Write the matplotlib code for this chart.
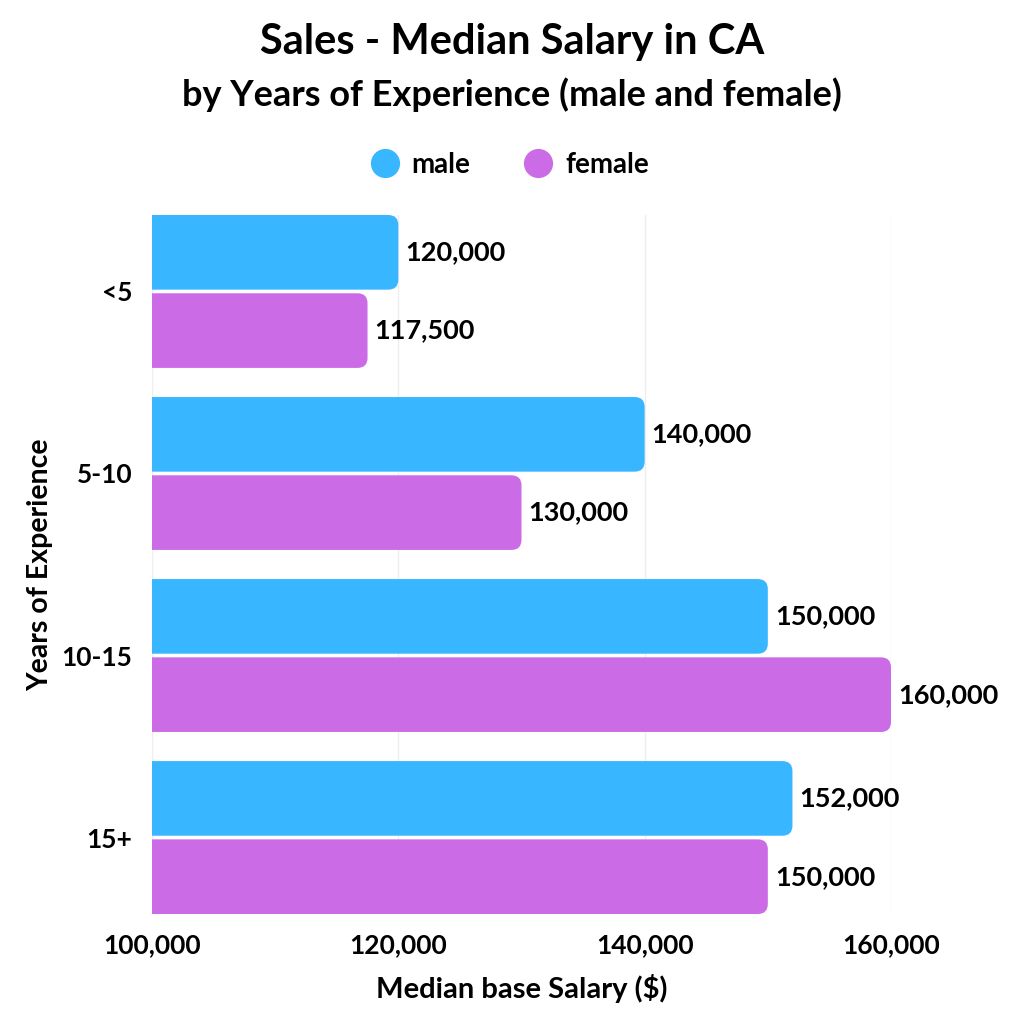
import numpy as np
from matplotlib import pyplot as plt
from matplotlib.patches import FancyBboxPatch
from matplotlib.lines import Line2D

plt.rcParams['font.family'] = ['Lato', 'DejaVu Sans']
plt.rcParams['font.weight'] = 'bold'

groups = ["<5", "5-10", "10-15", "15+"]
male = [120000, 140000, 150000, 152000]
female = [117500, 130000, 160000, 150000]
ticks = [100000, 120000, 140000, 160000]
male_color = "#38B6FF"
female_color = "#CB6CE6"
W = "bold"

fig = plt.figure(figsize=(10.24, 10.24), dpi=100)
ax = fig.add_axes([152/1024, 1 - 914/1024, (891 - 152)/1024, (914 - 215)/1024])

y = np.arange(len(groups))
h = 0.41
off = 0.215
ax.set_xlim(100000, 160000)
ax.set_ylim(3.42, -0.42)

# px -> data scales for rounded corners
xpp = 60000 / 739
ypp = 3.84 / 699
r_px = 10

def rounded_bars(vals, ypos, color):
    for v, yc in zip(vals, ypos):
        p = FancyBboxPatch((0, yc - h/2), v, h,
                           boxstyle="round,pad=0,rounding_size=%f" % (r_px * xpp),
                           mutation_aspect=ypp / xpp,
                           fc=color, ec="none", zorder=2)
        ax.add_patch(p)
        ax.text(v + 7 * xpp, yc, f"{v:,}", va="center", ha="left",
                fontsize=19.5, fontweight=W, color="black")

rounded_bars(male, y - off, male_color)
rounded_bars(female, y + off, female_color)

ax.set_xticks(ticks)
ax.set_xticklabels([f"{t:,}" for t in ticks])
ax.set_yticks(y)
ax.set_yticklabels(groups)
ax.tick_params(axis="both", length=0, labelsize=19)
ax.tick_params(axis="x", pad=14)
ax.tick_params(axis="y", pad=14)
for lab in ax.get_xticklabels() + ax.get_yticklabels():
    lab.set_fontweight(W)
ax.grid(axis="x", color="#eeeeee", lw=1, zorder=0)
ax.set_axisbelow(True)
for s in ax.spines.values():
    s.set_visible(False)

ax.set_xlabel("Median base Salary ($)", fontsize=21, fontweight=W, labelpad=12)
ax.set_ylabel("Years of Experience", fontsize=20.5, fontweight=W, labelpad=6)

fig.text(0.5, 1 - 42/1024, "Sales - Median Salary in CA", ha="center", va="center",
         fontsize=30, fontweight=W)
fig.text(0.5, 1 - 95/1024, "by Years of Experience (male and female)", ha="center",
         va="center", fontsize=26, fontweight=W)

handles = [Line2D([], [], ls="none", marker="o", ms=21, mfc=male_color, mec="none"),
           Line2D([], [], ls="none", marker="o", ms=21, mfc=female_color, mec="none")]
fig.legend(handles, ["male", "female"], loc="center", bbox_to_anchor=(0.498, 1 - 165/1024),
           ncol=2, frameon=False, prop={"size": 20, "weight": W},
           handlelength=1.0, handletextpad=0.45, columnspacing=1.95)

fig.savefig("out.png", dpi=100)
